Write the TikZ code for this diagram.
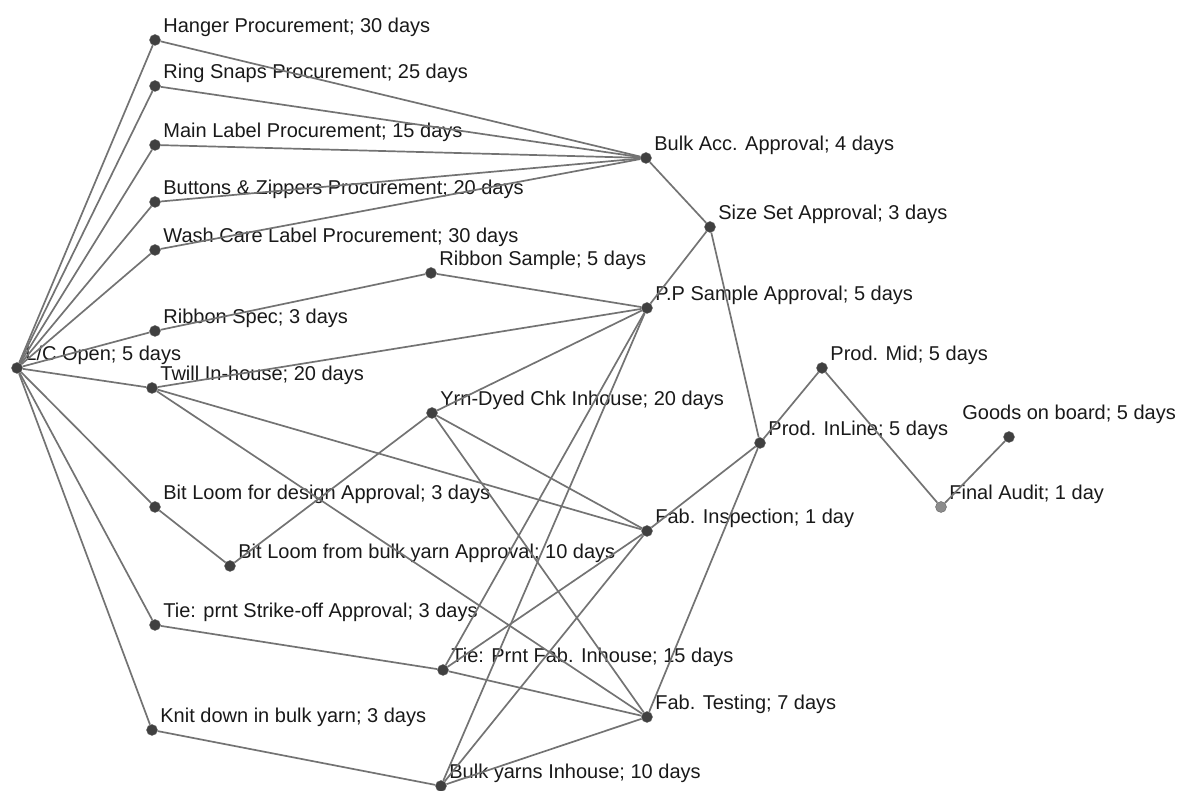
\documentclass[tikz,border=0pt]{standalone}
\usepackage{fontspec}
\setmainfont{Liberation Sans}
\usepackage{tikz}
\usetikzlibrary{arrows.meta,calc,positioning}

\begin{document}
\begin{tikzpicture}[x=1pt,y=1pt,
  task/.style={circle,fill=black!75,draw=black!60,inner sep=0pt,minimum size=11pt},
  lbl/.style={font=\fontsize{20}{22}\selectfont,inner sep=2pt,label distance=-4pt,xshift=5pt,text=black!90},
  link/.style={draw=black!55,line width=1.7pt}]

\useasboundingbox (0,0) rectangle (1189,791);

\node[task,label={[lbl]45:{L/C Open; 5 days}}] (lc) at (17,423) {};
\node[task,label={[lbl]45:{Hanger Procurement; 30 days}}] (hanger) at (155,751) {};
\node[task,label={[lbl]45:{Ring Snaps Procurement; 25 days}}] (rings) at (155,705) {};
\node[task,label={[lbl]45:{Main Label Procurement; 15 days}}] (mainlbl) at (155,646) {};
\node[task,label={[lbl]45:{Buttons \& Zippers Procurement; 20 days}}] (buttons) at (155,589) {};
\node[task,label={[lbl]45:{Wash Care Label Procurement; 30 days}}] (washcare) at (155,541) {};
\node[task,label={[lbl]45:{Ribbon Spec; 3 days}}] (ribspec) at (155,460) {};
\node[task,label={[lbl]45:{Twill In-house; 20 days}}] (twill) at (152,403) {};
\node[task,label={[lbl]45:{Bit Loom for design Approval; 3 days}}] (bitdesign) at (155,284) {};
\node[task,label={[lbl]45:{Bit Loom from bulk yarn Approval; 10 days}}] (bitbulk) at (230,225) {};
\node[task,label={[lbl]45:{Tie: prnt Strike-off Approval; 3 days}}] (tiestrike) at (155,166) {};
\node[task,label={[lbl]45:{Knit down in bulk yarn; 3 days}}] (knit) at (152,61) {};

\node[task,label={[lbl]45:{Ribbon Sample; 5 days}}] (ribsample) at (431,518) {};
\node[task,label={[lbl]45:{Yrn-Dyed Chk Inhouse; 20 days}}] (yrndyed) at (432,378) {};
\node[task,label={[lbl]45:{Tie: Prnt Fab. Inhouse; 15 days}}] (tiefab) at (443,121) {};
\node[task,label={[lbl]45:{Bulk yarns Inhouse; 10 days}}] (bulkyarn) at (441,5) {};

\node[task,label={[lbl]45:{Bulk Acc. Approval; 4 days}}] (bulkacc) at (646,633) {};
\node[task,label={[lbl]45:{Size Set Approval; 3 days}}] (sizeset) at (710,564) {};
\node[task,label={[lbl]45:{P.P Sample Approval; 5 days}}] (ppsample) at (647,483) {};
\node[task,label={[lbl]45:{Fab. Inspection; 1 day}}] (fabinsp) at (647,260) {};
\node[task,label={[lbl]45:{Fab. Testing; 7 days}}] (fabtest) at (647,74) {};

\node[task,label={[lbl]45:{Prod. InLine; 5 days}}] (inline) at (760,348) {};
\node[task,label={[lbl]45:{Prod. Mid; 5 days}}] (mid) at (822,423) {};
\node[task,fill=black!45,label={[lbl]45:{Final Audit; 1 day}}] (audit) at (941,284) {};
\node[task,label={[lbl,xshift=-55pt,yshift=10pt]45:{Goods on board; 5 days}}] (goods) at (1009,354) {};

\foreach \n in {hanger,rings,mainlbl,buttons,washcare,ribspec,twill,bitdesign,tiestrike,knit}
  \draw[link] (lc) -- (\n);
\foreach \n in {hanger,rings,mainlbl,buttons,washcare}
  \draw[link] (\n) -- (bulkacc);
\foreach \n in {ribsample,twill,yrndyed,tiefab,bulkyarn}
  \draw[link] (\n) -- (ppsample);
\foreach \n in {twill,yrndyed,tiefab,bulkyarn}
  \draw[link] (\n) -- (fabinsp);
\foreach \n in {twill,yrndyed,tiefab,bulkyarn}
  \draw[link] (\n) -- (fabtest);

\draw[link] (ribspec) -- (ribsample);
\draw[link] (bitdesign) -- (bitbulk);
\draw[link] (bitbulk) -- (yrndyed);
\draw[link] (tiestrike) -- (tiefab);
\draw[link] (knit) -- (bulkyarn);
\draw[link] (bulkacc) -- (sizeset);
\draw[link] (ppsample) -- (sizeset);
\draw[link] (sizeset) -- (inline);
\draw[link] (fabinsp) -- (inline);
\draw[link] (fabtest) -- (inline);
\draw[link] (inline) -- (mid);
\draw[link] (mid) -- (audit);
\draw[link] (audit) -- (goods);
\end{tikzpicture}
\end{document}
